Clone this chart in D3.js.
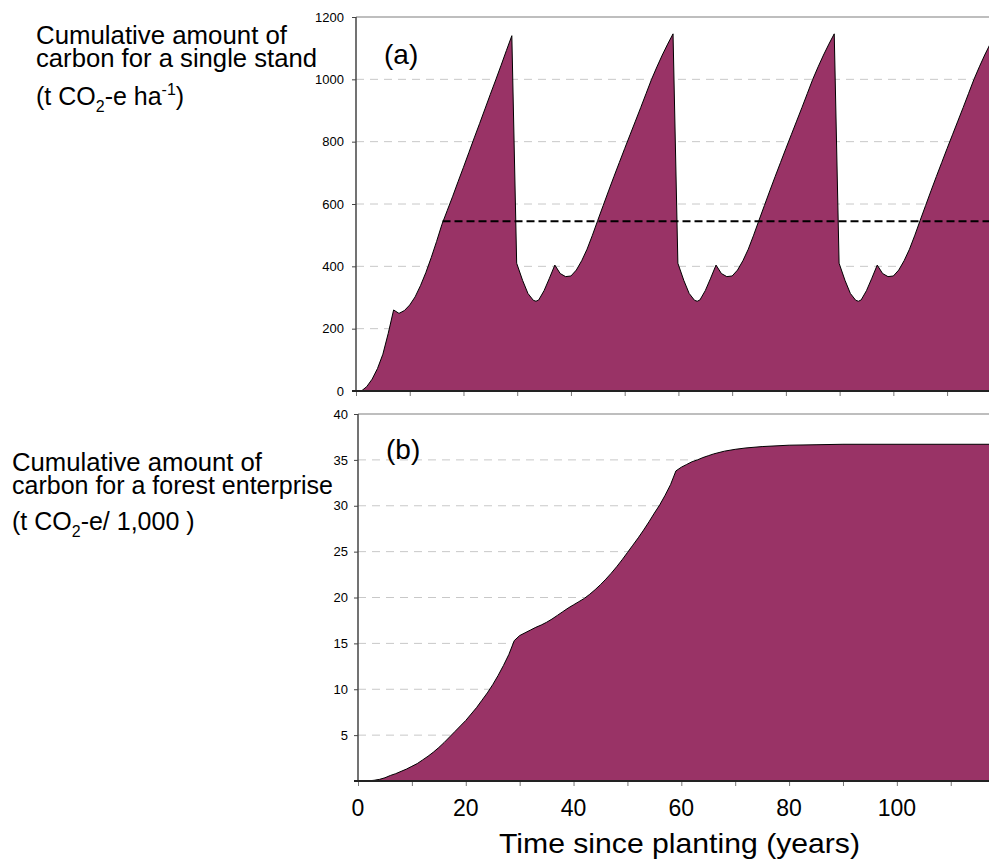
<!DOCTYPE html>
<html>
<head>
<meta charset="utf-8">
<script src="https://cdn.jsdelivr.net/npm/d3@7/dist/d3.min.js"></script>
<style>
  body { margin: 0; background: #fff; }
  text { font-family: Arial, "Liberation Sans", sans-serif; fill: #000; }
</style>
</head>
<body>
<svg id="main-svg"></svg>
<script>
// (a) single stand, t CO2-e per ha
const standYears = [0, 1, 2, 3, 4, 5, 6, 7, 8, 9, 10, 11, 12, 13, 14, 15, 16, 17, 18, 19, 20, 21, 22, 23, 24, 25, 26, 27, 28, 29,
  29.9, 31, 32, 33, 33.5, 34, 35, 36, 37, 38, 39, 40, 41, 42, 43, 44, 45, 46, 47, 48, 49, 50, 51, 52, 53, 54, 55, 56, 57, 58, 59,
  59.9, 61, 62, 63, 63.5, 64, 65, 66, 67, 68, 69, 70, 71, 72, 73, 74, 75, 76, 77, 78, 79, 80, 81, 82, 83, 84, 85, 86, 87, 88, 89,
  89.9, 91, 92, 93, 93.5, 94, 95, 96, 97, 98, 99, 100, 101, 102, 103, 104, 105, 106, 107, 108, 109, 110, 111, 112, 113, 114, 115, 116, 117, 118];
const standCarbon = [0, 0, 14, 38, 72, 118, 185, 260, 249, 258, 276, 302, 338, 380, 428, 480, 535, 580, 625, 672, 718, 765, 812, 858, 905, 952, 998, 1045, 1093, 1140,
  410, 355, 313, 291, 288, 292, 322, 362, 404, 377, 367, 369, 388, 418, 455, 500, 548, 595, 642, 688, 733, 778, 822, 866, 910, 955, 1000, 1040, 1078, 1113, 1146,
  410, 355, 313, 291, 288, 292, 322, 362, 404, 377, 367, 369, 388, 418, 455, 500, 548, 595, 642, 688, 733, 778, 822, 866, 910, 955, 1000, 1040, 1078, 1113, 1146,
  410, 355, 313, 291, 288, 292, 322, 362, 404, 377, 367, 369, 388, 418, 455, 500, 548, 595, 642, 688, 733, 778, 822, 866, 910, 955, 1000, 1040, 1078, 1113];
const meanStand = 545;
const meanStart = 16.1;

// (b) forest enterprise, t CO2-e / 1,000
const enterpriseYears = [0, 1, 2, 3, 4, 5, 6, 7, 8, 9, 10, 11, 12, 13, 14, 15, 16, 17, 18, 19, 20, 21, 22, 23, 24, 25, 26, 27, 28, 29,
  30, 31, 32, 33, 34, 35, 36, 37, 38, 39, 40, 41, 42, 43, 44, 45, 46, 47, 48, 49, 50, 51, 52, 53, 54, 55, 56, 57, 58, 59,
  60, 61, 62, 63, 64, 65, 66, 67, 68, 70, 72, 75, 80, 85, 90, 118];
const enterpriseCarbon = [0, 0, 0.02, 0.08, 0.18, 0.35, 0.6, 0.8, 1.05, 1.3, 1.6, 1.9, 2.3, 2.7, 3.15, 3.65, 4.2, 4.8, 5.4, 6.0, 6.6, 7.3, 8.0, 8.8, 9.6, 10.5, 11.5, 12.6, 13.8, 15.3,
  15.85, 16.15, 16.45, 16.75, 17.0, 17.3, 17.65, 18.05, 18.45, 18.85, 19.2, 19.55, 19.9, 20.35, 20.85, 21.4, 22.0, 22.65, 23.35, 24.1, 24.9, 25.7, 26.5, 27.35, 28.25, 29.2, 30.1, 31.15, 32.3, 33.8,
  34.2, 34.5, 34.8, 35.0, 35.25, 35.45, 35.65, 35.8, 35.95, 36.15, 36.3, 36.45, 36.6, 36.65, 36.7, 36.7];

const standTicks = [0, 200, 400, 600, 800, 1000, 1200];
const enterpriseTicks = [5, 10, 15, 20, 25, 30, 35, 40];
const yearTicks = [0, 10, 20, 30, 40, 50, 60, 70, 80, 90, 100, 110];
const yearLabels = [0, 20, 40, 60, 80, 100];

const fillColor = '#993366';
let width = 989, height = 861;

let svg = d3.select('#main-svg').attr('width', width).attr('height', height);
let defs = svg.append('defs');

function drawPanel(settings) {
  let x = d3.scaleLinear().domain(settings.xDomain).range([settings.left, settings.right]);
  let y = d3.scaleLinear().domain(settings.yDomain).range([settings.bottom, settings.top]);
  let g = svg.append('g');

  defs.append('clipPath').attr('id', settings.id + '-clip')
    .append('rect')
    .attr('x', settings.left).attr('y', settings.top)
    .attr('width', settings.right - settings.left)
    .attr('height', settings.bottom - settings.top);

  // dashed grid
  g.selectAll('.grid')
    .data(settings.ticks.filter(d => d > 0 && d < settings.yDomain[1]))
    .enter()
    .append('line')
    .attr('x1', settings.left).attr('x2', settings.right)
    .attr('y1', d => y(d)).attr('y2', d => y(d))
    .attr('stroke', '#c8c8c8')
    .attr('stroke-width', 1)
    .attr('stroke-dasharray', '8,6');

  // top border
  g.append('line')
    .attr('x1', settings.left).attr('x2', settings.right)
    .attr('y1', y(settings.yDomain[1])).attr('y2', y(settings.yDomain[1]))
    .attr('stroke', '#a8a8a8')
    .attr('stroke-width', 1.5);

  let data = settings.years.map((t, i) => ({t: t, v: settings.values[i]}));

  let area = d3.area()
    .x(d => x(d.t))
    .y0(y(0))
    .y1(d => y(d.v));
  let line = d3.line()
    .x(d => x(d.t))
    .y(d => y(d.v));

  let plot = g.append('g').attr('clip-path', `url(#${settings.id}-clip)`);
  plot.append('path')
    .datum(data)
    .attr('d', area)
    .attr('fill', fillColor);
  plot.append('path')
    .datum(data)
    .attr('d', line)
    .attr('fill', 'none')
    .attr('stroke', '#000')
    .attr('stroke-width', 1);

  if (settings.mean !== undefined) {
    plot.append('line')
      .attr('x1', x(settings.meanStart)).attr('x2', settings.right)
      .attr('y1', y(settings.mean)).attr('y2', y(settings.mean))
      .attr('stroke', '#000')
      .attr('stroke-width', 2)
      .attr('stroke-dasharray', '8,4');
  }

  // y axis
  let yAxis = g.append('g')
    .attr('transform', `translate(${settings.left},0)`)
    .call(d3.axisLeft(y).tickValues(settings.ticks).tickSize(4)
      .tickPadding(settings.labelPad).tickFormat(d3.format('d')));
  yAxis.select('.domain').remove();
  yAxis.selectAll('line').attr('stroke', '#444');
  yAxis.selectAll('text')
    .style('font-family', 'Arial, "Liberation Sans", sans-serif')
    .style('font-size', '13px')
    .attr('fill', '#000');
  g.append('line')
    .attr('x1', settings.left).attr('x2', settings.left)
    .attr('y1', settings.top).attr('y2', settings.bottom)
    .attr('stroke', '#444')
    .attr('stroke-width', 1.5);

  // x axis
  let xAxis = g.append('g')
    .attr('transform', `translate(0,${settings.bottom})`)
    .call(d3.axisBottom(x).tickValues(yearTicks).tickSize(5).tickFormat(''));
  xAxis.select('.domain').remove();
  xAxis.selectAll('line').attr('stroke', '#777');
  g.append('line')
    .attr('x1', settings.left - 4).attr('x2', settings.right)
    .attr('y1', settings.bottom).attr('y2', settings.bottom)
    .attr('stroke', '#222')
    .attr('stroke-width', 2);

  g.append('text')
    .attr('x', settings.left + 28)
    .attr('y', settings.panelY)
    .style('font-size', '28px')
    .text(settings.panel);

  return x;
}

drawPanel({
  id: 'stand', panel: '(a)', panelY: 64,
  left: 356, right: 989, top: 17, bottom: 391,
  xDomain: [0, 117.8], yDomain: [0, 1200],
  years: standYears, values: standCarbon, ticks: standTicks, labelPad: 8,
  mean: meanStand, meanStart: meanStart
});

let xb = drawPanel({
  id: 'enterprise', panel: '(b)', panelY: 459,
  left: 358, right: 989, top: 414, bottom: 781,
  xDomain: [0, 117.1], yDomain: [0, 40],
  years: enterpriseYears, values: enterpriseCarbon, ticks: enterpriseTicks, labelPad: 6
});

// x tick labels
svg.selectAll('.xlabel')
  .data(yearLabels)
  .enter()
  .append('text')
  .attr('x', d => xb(d))
  .attr('y', 816)
  .attr('text-anchor', 'middle')
  .style('font-size', '23px')
  .text(d => d);

svg.append('text')
  .attr('x', 499)
  .attr('y', 853)
  .attr('textLength', 361)
  .attr('lengthAdjust', 'spacingAndGlyphs')
  .style('font-size', '28px')
  .text('Time since planting (years)');

// left titles
function leftLabel(x, y, lines, lengths, unit) {
  let t = svg.append('g');
  lines.forEach((s, i) => {
    t.append('text')
      .attr('x', x)
      .attr('y', y[i])
      .attr('textLength', lengths[i])
      .attr('lengthAdjust', 'spacingAndGlyphs')
      .style('font-size', '25px')
      .text(s);
  });
  let u = t.append('text')
    .attr('x', x)
    .attr('y', y[2])
    .style('font-size', '25px');
  unit.forEach(p => {
    let ts = u.append('tspan').text(p.s);
    if (p.sub) ts.style('font-size', '16px').attr('dy', 7);
    if (p.sup) ts.style('font-size', '16px').attr('dy', -10);
    if (p.back) ts.attr('dy', p.back);
  });
}

leftLabel(36, [44, 67, 105], ['Cumulative amount of', 'carbon for a single stand'], [251, 281],
  [{s: '(t CO'}, {s: '2', sub: true}, {s: '-e ha', back: -7}, {s: '-1', sup: true}, {s: ')', back: 10}]);
leftLabel(12, [471, 494, 530], ['Cumulative amount of', 'carbon for a forest enterprise'], [250, 321],
  [{s: '(t CO'}, {s: '2', sub: true}, {s: '-e/ 1,000 )', back: -7}]);
</script>
</body>
</html>
